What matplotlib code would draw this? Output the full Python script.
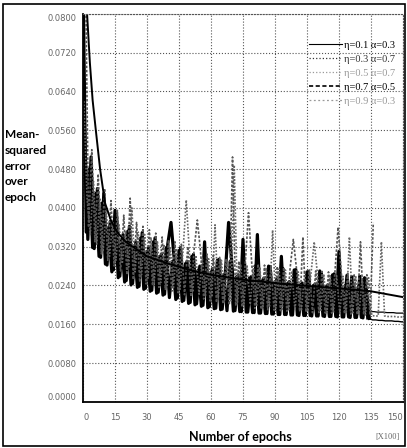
import numpy as np
import matplotlib
matplotlib.use('Agg')
import matplotlib.pyplot as plt
from matplotlib.patches import Rectangle

plt.rcParams['figure.dpi'] = 100

#%% Data (error values in units of 1e-4, epochs in hundreds)

labels = ['η=0.1 α=0.3', 'η=0.3 α=0.7', 'η=0.5 α=0.7', 'η=0.7 α=0.5', 'η=0.9 α=0.3']

# smooth run
a_x = [0, 1.9, 3.2, 4.5, 6, 8, 10.3, 13, 16, 20, 25, 30, 40, 50, 60, 75, 90, 105, 120, 135, 150]
a_y = [960, 800, 700, 622, 560, 480, 410, 375, 350, 330, 315, 300, 285, 272, 262, 252, 245, 239, 234, 228, 216]

# noisy runs, one value every 1.5 (x100 epochs); last 11 values = quiet tail after 135
b_y = [880, 350, 480, 318, 430, 300, 410, 284, 360, 268,
       395, 256, 335, 247, 352, 241, 320, 236, 338, 232,
       310, 228, 330, 224, 300, 220, 318, 215, 290, 211,
       312, 207, 285, 203, 300, 200, 272, 197, 330, 194,
       268, 192, 292, 190, 262, 188, 290, 187, 258, 186,
       335, 185, 255, 184, 281, 183, 250, 182, 280, 181,
       248, 180, 300, 180, 245, 179, 272, 179, 242, 178,
       268, 178, 240, 177, 270, 177, 238, 176, 262, 176,
       310, 175, 240, 175, 258, 174, 236, 174, 256, 173,
       186, 186, 185, 185, 185, 184, 184, 184, 183, 183, 183]

c_y = [620, 420, 345, 455, 325, 420, 310, 395, 300, 372,
       292, 365, 285, 352, 278, 400, 268, 350, 262, 345,
       255, 338, 250, 330, 246, 325, 240, 320, 236, 316,
       232, 312, 416, 306, 226, 302, 222, 298, 219, 295,
       216, 365, 213, 292, 210, 288, 208, 488, 205, 284,
       203, 282, 201, 280, 199, 278, 197, 276, 195, 354,
       193, 274, 191, 272, 190, 270, 189, 268, 188, 266,
       187, 265, 330, 264, 186, 263, 185, 262, 184, 260,
       183, 259, 182, 340, 181, 258, 180, 257, 179, 256,
       178, 177, 177, 330, 177, 176, 176, 176, 175, 175, 175]

d_y = [560, 335, 505, 316, 440, 298, 430, 282, 372, 272,
       385, 259, 345, 250, 362, 244, 330, 238, 349, 234,
       318, 230, 338, 226, 305, 222, 326, 370, 295, 214,
       318, 209, 290, 205, 304, 202, 280, 199, 298, 196,
       275, 193, 294, 191, 268, 370, 288, 188, 262, 186,
       286, 185, 258, 184, 345, 183, 255, 182, 279, 181,
       252, 180, 275, 180, 248, 179, 273, 178, 245, 178,
       269, 177, 243, 177, 266, 176, 241, 176, 264, 175,
       240, 175, 261, 174, 238, 174, 259, 173, 236, 172,
       169, 169, 168, 168, 167, 167, 167, 166, 166, 165, 165]

e_y = [900, 360, 520, 330, 470, 305, 440, 292, 415, 280,
       395, 270, 385, 262, 420, 252, 370, 247, 362, 243,
       355, 240, 348, 236, 340, 232, 334, 228, 330, 225,
       325, 221, 320, 217, 315, 375, 310, 212, 305, 208,
       302, 205, 298, 202, 295, 200, 505, 198, 290, 196,
       288, 390, 286, 193, 284, 191, 282, 190, 280, 189,
       279, 188, 277, 187, 276, 335, 274, 186, 340, 185,
       272, 184, 270, 184, 269, 183, 268, 183, 267, 360,
       266, 182, 265, 181, 264, 180, 330, 180, 262, 179, 369]

yticks = [0.0, 0.008, 0.016, 0.024, 0.032, 0.040, 0.048, 0.056, 0.064, 0.072, 0.080]
xticks = [0, 15, 30, 45, 60, 75, 90, 105, 120, 135, 150]

#%% Plot

fig = plt.figure(figsize=(4.07, 4.48))
ax = fig.add_axes([0.204, 0.103, 0.786, 0.866])

sc = 1e-4
step = 1.5
n = 90   # points before the quiet tail

b_x = np.arange(len(b_y))*step
c_x = np.arange(len(c_y))*step + 0.4
d_x = np.arange(len(d_y))*step + 0.75
e_x = np.arange(len(e_y))*step + 1.1
b = np.array(b_y)*sc
c = np.array(c_y)*sc
d = np.array(d_y)*sc
e = np.array(e_y)*sc

ax.plot(b_x[:n], b[:n], color='black', lw=2.3, label=labels[1])
ax.plot(b_x[n-1:], b[n-1:], color='black', lw=0.9)
ax.plot(d_x[:n], d[:n], color='black', lw=2.3, label=labels[3])
ax.plot(d_x[n-1:], d[n-1:], color='black', lw=1.0)
ax.plot(c_x, c, color='#666666', lw=1.2, ls=(0, (1, 1)), label=labels[2])
ax.plot(e_x, e, color='#555555', lw=1.2, ls=(0, (1.5, 1)), label=labels[4])
ax.plot(a_x, np.array(a_y)*sc, color='black', lw=1.4, label=labels[0])

ax.set_xlim(0, 150)
ax.set_ylim(0, 0.08)
ax.set_xticks(xticks)
ax.set_yticks(yticks)
ax.set_xticklabels([str(v) for v in xticks])
ax.set_yticklabels(['%.4f' % v for v in yticks])
ax.tick_params(length=0, labelsize=6, labelcolor='#666666')
ax.tick_params(axis='x', pad=8)
ax.tick_params(axis='y', pad=5)
xl = ax.get_xticklabels()
xl[0].set_ha('left')
xl[-1].set_ha('right')
yl = ax.get_yticklabels()
yl[0].set_va('bottom')
yl[-1].set_va('top')

ax.grid(True, ls=':', color='#555555', lw=0.8)
ax.set_axisbelow(True)
for s in ['top', 'right']:
    ax.spines[s].set_linestyle(':')
    ax.spines[s].set_color('#555555')
    ax.spines[s].set_linewidth(0.8)
for s in ['left', 'bottom']:
    ax.spines[s].set_linewidth(1.3)

h, l = ax.get_legend_handles_labels()
order = [4, 0, 2, 1, 3]
leg = ax.legend([h[i] for i in order], [l[i] for i in order], loc='upper left',
                bbox_to_anchor=(0.69, 0.945), frameon=False, handlelength=3.2,
                handletextpad=0.15, labelspacing=0.45, borderpad=0,
                prop={'family': 'Liberation Serif', 'size': 7.5})
tcol = ['black', '#333333', '#999999', 'black', '#999999']
for t, col in zip(leg.get_texts(), tcol):
    t.set_color(col)
# thinner strokes in the key than in the dense plot
hstyle = [('black', '-', 0.8), ('#333333', ':', 0.9), ('#999999', ':', 0.9),
          ('black', (0, (2.5, 1.5)), 1.2), ('#999999', (0, (1.5, 2)), 0.9)]
for hd, (col, s, w) in zip(leg.legend_handles, hstyle):
    hd.set_color(col)
    hd.set_linestyle(s)
    hd.set_linewidth(w)

fig.text(5/407, 1 - 166/448, 'Mean-\nsquared\nerror\nover\nepoch', ha='left', va='center',
         fontsize=8.5, fontweight='bold', linespacing=1.55, family='Lato')
fig.text(240/407, 1 - 437/448, 'Number of epochs', ha='center', va='center',
         fontsize=9, fontweight='bold', family='Lato')
fig.text(387/407, 1 - 437/448, '[X100]', ha='center', va='center', fontsize=6,
         color='#666666', family='Liberation Serif')

fig.patches.append(Rectangle((0.007, 0.005), 0.988, 0.986, transform=fig.transFigure,
                             fill=False, ec='black', lw=1.2))

plt.savefig('out.png', dpi=100)
